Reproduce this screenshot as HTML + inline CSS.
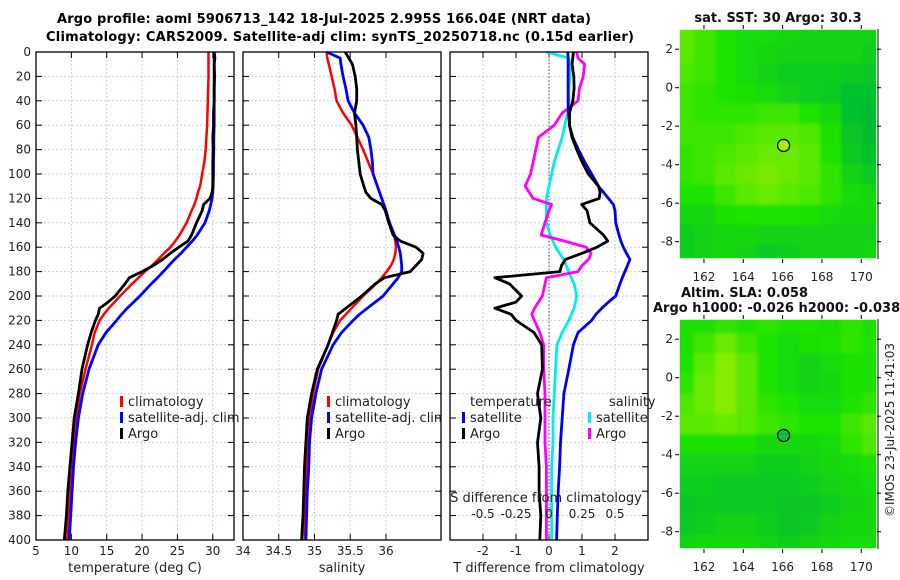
<!DOCTYPE html>
<html><head><meta charset="utf-8"><style>
html,body{margin:0;padding:0;background:#fff;}
svg{display:block;font-family:"DejaVu Sans","Liberation Sans",sans-serif;}
</style></head><body>
<svg id="fig" width="900" height="580" viewBox="0 0 900 580" xmlns="http://www.w3.org/2000/svg">
<defs>
<filter id="soft" x="0" y="0" width="1" height="1"><feGaussianBlur stdDeviation="1.5"/></filter>
<clipPath id="clipA"><rect x="679" y="29" width="198" height="230"/></clipPath>
<clipPath id="clipB"><rect x="679" y="319" width="198" height="230"/></clipPath>
</defs>
<text x="324" y="23" text-anchor="middle" font-size="13" font-weight="bold" textLength="534">Argo profile: aoml 5906713_142 18-Jul-2025 2.995S 166.04E (NRT data)</text>
<text x="340" y="41" text-anchor="middle" font-size="13" font-weight="bold" textLength="588">Climatology: CARS2009. Satellite-adj clim: synTS_20250718.nc (0.15d earlier)</text>
<g id="layer"></g>
<text transform="translate(894,430) rotate(-90)" text-anchor="middle" font-size="12" fill="#222">©IMOS 23-Jul-2025 11:41:03</text>
</svg>
<script>
const depths=[0,5,10,20,30,40,50,60,70,80,90,100,110,115,120,125,130,140,150,155,160,165,170,175,180,185,190,200,205,210,215,220,230,240,260,280,300,320,340,360,380,400];
const tempClim=[29.4,29.4,29.4,29.4,29.35,29.3,29.25,29.2,29.1,29.0,28.8,28.5,28.2,27.9,27.7,27.4,27.0,26.3,25.3,24.7,24.0,23.1,22.3,21.4,20.4,19.5,18.6,16.9,16.1,15.3,14.6,14.0,13.3,12.9,12.0,11.2,10.7,10.3,10.0,9.8,9.6,9.4];
const tempSat=[30.2,30.2,30.2,30.2,30.2,30.2,30.2,30.2,30.15,30.15,30.1,30.1,30.05,30.0,29.9,29.7,29.5,28.9,27.8,27.1,26.3,25.5,24.6,23.8,23.0,22.2,21.3,19.7,18.8,17.9,17.1,16.4,14.9,13.8,12.5,11.6,11.0,10.6,10.3,10.1,9.9,9.7];
const tempArgo=[30.2,30.3,30.2,30.25,30.2,30.2,30.1,30.1,30.0,30.05,30.0,30.0,30.0,29.9,29.6,28.7,28.5,27.7,27.0,26.5,25.2,24.0,22.9,21.6,20.0,18.2,17.6,16.2,15.2,14.0,13.8,13.4,12.8,12.3,11.5,11.0,10.4,10.1,9.8,9.5,9.3,9.0];
const salClim=[35.17,35.18,35.2,35.24,35.28,35.31,35.4,35.52,35.6,35.68,35.75,35.82,35.88,35.91,35.94,35.97,36.0,36.05,36.11,36.13,36.14,36.13,36.11,36.07,36.01,35.94,35.86,35.68,35.6,35.52,35.44,35.36,35.26,35.19,35.05,34.98,34.93,34.91,34.89,34.88,34.87,34.86];
const salSat=[35.17,35.36,35.37,35.4,35.44,35.47,35.56,35.68,35.76,35.79,35.81,35.82,35.88,35.91,35.94,35.97,36.0,36.05,36.12,36.15,36.18,36.2,36.21,36.22,36.22,36.17,36.1,35.96,35.85,35.74,35.63,35.54,35.38,35.26,35.1,35.02,34.96,34.93,34.92,34.9,34.89,34.88];
const salArgo=[35.43,35.48,35.53,35.57,35.59,35.59,35.56,35.58,35.59,35.6,35.62,35.64,35.69,35.72,35.79,35.94,35.99,36.04,36.1,36.2,36.42,36.52,36.5,36.42,36.34,35.98,35.85,35.66,35.55,35.44,35.33,35.31,35.25,35.19,35.04,34.96,34.9,34.88,34.86,34.85,34.84,34.82];
const tDiffSat=[0.57,0.58,0.58,0.58,0.58,0.58,0.59,0.62,0.72,0.89,1.08,1.29,1.5,1.65,1.8,1.95,2.0,2.02,2.12,2.18,2.25,2.35,2.45,2.38,2.3,2.22,2.15,2.02,1.8,1.6,1.42,1.29,0.88,0.74,0.6,0.45,0.4,0.35,0.32,0.28,0.25,0.23];
const tDiffArgo=[0.74,0.72,0.7,0.75,0.76,0.72,0.62,0.62,0.7,0.84,1.0,1.19,1.5,1.55,1.52,0.99,1.15,1.24,1.65,1.78,1.45,1.0,0.5,0.38,0.33,-1.64,-1.2,-0.83,-1.0,-1.64,-1.15,-1.0,-0.45,-0.22,-0.2,-0.35,-0.25,-0.35,-0.3,-0.3,-0.25,-0.28];
const sDiffSat=[-0.02,0.15,0.16,0.16,0.15,0.15,0.14,0.12,0.1,0.07,0.04,0.02,0.0,-0.01,-0.02,-0.02,-0.02,-0.02,0.01,0.03,0.05,0.08,0.11,0.13,0.15,0.17,0.19,0.21,0.2,0.19,0.17,0.15,0.1,0.06,0.05,0.04,0.03,0.03,0.02,0.02,0.02,0.02];
const sDiffArgo=[0.21,0.22,0.27,0.26,0.23,0.22,0.1,0.04,-0.08,-0.1,-0.12,-0.14,-0.18,-0.15,-0.12,0.02,0.0,-0.03,-0.06,0.12,0.28,0.32,0.3,0.25,0.22,-0.02,-0.03,-0.05,-0.08,-0.11,-0.13,-0.11,-0.07,-0.04,-0.04,-0.03,-0.03,-0.03,-0.02,-0.02,-0.02,-0.02];
const depthTicks=[0,20,40,60,80,100,120,140,160,180,200,220,240,260,280,300,320,340,360,380,400];
const tempTicks=[5,10,15,20,25,30];
const salTicks=[34,34.5,35,35.5,36];
const tDiffTicks=[-2,-1,0,1,2];
const sDiffTicks=[-0.5,-0.25,0,0.25,0.5];
const lonTicks=[162,164,166,168,170];
const latTicks=[2,0,-2,-4,-6,-8];
const sstGrid=[
[0.7,0.6,0.5,0.4,0.4,0.35,0.3,0.3,0.3,0.3],
[0.7,0.6,0.5,0.4,0.35,0.3,0.3,0.3,0.3,0.25],
[0.65,0.6,0.5,0.4,0.3,0.25,0.25,0.25,0.2,0.15],
[0.6,0.55,0.5,0.45,0.4,0.3,0.25,0.2,0.1,0.1],
[0.6,0.55,0.55,0.55,0.6,0.6,0.5,0.35,0.1,0.05],
[0.6,0.6,0.6,0.65,0.7,0.7,0.65,0.45,0.15,0.05],
[0.55,0.6,0.65,0.7,0.75,0.75,0.7,0.5,0.2,0.1],
[0.55,0.6,0.7,0.75,0.8,0.75,0.7,0.55,0.3,0.2],
[0.5,0.5,0.6,0.7,0.75,0.7,0.65,0.55,0.4,0.35],
[0.35,0.35,0.45,0.5,0.5,0.5,0.45,0.4,0.35,0.35],
[0.25,0.3,0.35,0.35,0.3,0.3,0.3,0.3,0.3,0.3],
[0.25,0.3,0.35,0.3,0.2,0.25,0.3,0.3,0.3,0.35]];
const slaGrid=[
[0.45,0.45,0.55,0.5,0.55,0.5,0.5,0.45,0.55,0.45],
[0.45,0.6,0.75,0.6,0.5,0.4,0.45,0.5,0.55,0.5],
[0.5,0.7,0.85,0.7,0.5,0.4,0.3,0.4,0.45,0.45],
[0.55,0.75,0.85,0.7,0.5,0.4,0.3,0.35,0.45,0.45],
[0.65,0.75,0.85,0.7,0.55,0.5,0.4,0.4,0.5,0.55],
[0.7,0.7,0.75,0.7,0.6,0.55,0.5,0.5,0.6,0.7],
[0.45,0.45,0.45,0.45,0.35,0.35,0.35,0.4,0.55,0.65],
[0.3,0.3,0.3,0.3,0.25,0.25,0.3,0.35,0.4,0.45],
[0.25,0.25,0.2,0.2,0.2,0.2,0.25,0.3,0.35,0.4],
[0.15,0.2,0.2,0.2,0.2,0.15,0.15,0.25,0.3,0.35],
[0.2,0.25,0.3,0.3,0.25,0.15,0.2,0.3,0.35,0.35],
[0.3,0.35,0.35,0.35,0.3,0.25,0.3,0.35,0.4,0.4]];
const argoLon=166.05, argoLat=-3.0;

const NS='http://www.w3.org/2000/svg';
const layer=document.getElementById('layer');
function mk(tag,attrs,parent){const e=document.createElementNS(NS,tag);for(const k in attrs)e.setAttribute(k,attrs[k]);(parent||layer).appendChild(e);return e;}
const Y0=52,Y1=540;
function yD(d){return Y0+(d/400)*(Y1-Y0);}

function panel(name,x0,x1,xmin,xmax,ticks,labelFmt,xTitle){
  const sx=v=>x0+(v-xmin)/(xmax-xmin)*(x1-x0);
  const g=mk('g',{});
  
  
  ticks.forEach(t=>{const x=sx(t);
    const l=mk('line',{x1:x,x2:x,y1:Y0,y2:Y1,stroke:'#c6cdee','stroke-width':1,'stroke-dasharray':'2,2'},g);
    
    mk('line',{x1:x,x2:x,y1:Y1,y2:Y1-6,stroke:'#000'},g);
    mk('line',{x1:x,x2:x,y1:Y0,y2:Y0+6,stroke:'#000'},g);
    if(labelFmt){const tx=mk('text',{x:x,y:555,'text-anchor':'middle','font-size':12,fill:'#222'},g);tx.textContent=labelFmt(t);
      }
  });
  depthTicks.forEach(d=>{const y=yD(d);
    if(d>0&&d<400){const l=mk('line',{x1:x0,x2:x1,y1:y,y2:y,stroke:'#c6cdee','stroke-width':1,'stroke-dasharray':'2,2'},g);
      }
    mk('line',{x1:x0,x2:x0+6,y1:y,y2:y,stroke:'#000'},g);
    mk('line',{x1:x1-6,x2:x1,y1:y,y2:y,stroke:'#000'},g);
  });
  if(xTitle){const t=mk('text',{x:(x0+x1)/2,y:572,'text-anchor':'middle','font-size':13,fill:'#222'},g);t.textContent=xTitle;
    }
  return {g,sx};
}
function profile(p,vals,sx,color,w,name){
  const pts=vals.map((v,i)=>sx(v).toFixed(1)+','+yD(depths[i]).toFixed(1)).join(' ');
  const pl=mk('polyline',{points:pts,fill:'none',stroke:color,'stroke-width':w,'stroke-linejoin':'round'},p.g);
  
  
}
function frame(p,x0,x1){const r=mk('rect',{x:x0,y:Y0,width:x1-x0,height:Y1-Y0,fill:'none',stroke:'#000','stroke-width':1.3},p.g);
  }
function legend(g,x,y,color,label,name){
  const m=mk('rect',{x:x,y:y-10,width:3,height:11,fill:color},g);
  
  const t=mk('text',{x:x+8,y:y,'font-size':13,fill:'#222'},g);t.textContent=label;
  
}

depthTicks.forEach(d=>{const t=mk('text',{x:31,y:yD(d)+4,'text-anchor':'end','font-size':12,fill:'#222'});t.textContent=d;
  });

const p1=panel('temperature-panel',36,234,5,33,tempTicks,t=>t,'temperature (deg C)');
profile(p1,tempClim,p1.sx,'#ff0000',2.5,'temp-climatology-line');
profile(p1,tempSat,p1.sx,'#0000ff',2.8,'temp-satellite-line');
profile(p1,tempArgo,p1.sx,'#000',2.8,'temp-argo-line');
frame(p1,36,234);
legend(p1.g,120,406,'#ff0000','climatology','legend-climatology');
legend(p1.g,120,422,'#0000ff','satellite-adj. clim','legend-satellite-adj');
legend(p1.g,120,438,'#000','Argo','legend-argo');

const p2=panel('salinity-panel',243,441,34,36.77,salTicks,t=>t,'salinity');
profile(p2,salClim,p2.sx,'#ff0000',2.5,'sal-climatology-line');
profile(p2,salSat,p2.sx,'#0000ff',2.8,'sal-satellite-line');
profile(p2,salArgo,p2.sx,'#000',2.8,'sal-argo-line');
frame(p2,243,441);
legend(p2.g,327,406,'#ff0000','climatology','legend-climatology-2');
legend(p2.g,327,422,'#0000ff','satellite-adj. clim','legend-satellite-adj-2');
legend(p2.g,327,438,'#000','Argo','legend-argo-2');
mk('rect',{x:442,y:400,width:7,height:30,fill:'#fff'});

const p3=panel('difference-panel',450,648,-3,3,tDiffTicks,t=>t,'T difference from climatology');
const sxS=v=>450+(v+0.75)/1.5*198;
const z=mk('line',{x1:p3.sx(0),x2:p3.sx(0),y1:Y0,y2:Y1,stroke:'#5a4a30','stroke-width':1,'stroke-dasharray':'1.5,2'},p3.g);

profile(p3,sDiffSat,sxS,'#00eeee',2.8,'sdiff-satellite-line');
profile(p3,sDiffArgo,sxS,'#ff00ff',2.8,'sdiff-argo-line');
profile(p3,tDiffSat,p3.sx,'#0000ee',2.8,'tdiff-satellite-line');
profile(p3,tDiffArgo,p3.sx,'#000',2.8,'tdiff-argo-line');
frame(p3,450,648);
{const t=mk('text',{x:470,y:406,'font-size':13,fill:'#222'},p3.g);t.textContent='temperature';
 
 const s=mk('text',{x:609,y:406,'font-size':13,fill:'#222'},p3.g);s.textContent='salinity';
 }
legend(p3.g,462,422,'#0000ee','satellite','legend-t-satellite');
legend(p3.g,462,438,'#000','Argo','legend-t-argo');
legend(p3.g,588,422,'#00eeee','satellite','legend-s-satellite');
legend(p3.g,588,438,'#ff00ff','Argo','legend-s-argo');
{const t=mk('text',{x:546,y:502,'text-anchor':'middle','font-size':13,fill:'#222'},p3.g);t.textContent='S difference from climatology';
 }
sDiffTicks.forEach(v=>{const t=mk('text',{x:sxS(v),y:518,'text-anchor':'middle','font-size':12,fill:'#222'},p3.g);t.textContent=v;
 });

function color(v){let r,g,b;
  if(v<0.5){const f=v/0.5;r=0+30*f;g=184+44*f;b=56-56*f;}
  else{const f=(v-0.5)/0.5;r=30+150*f;g=228+12*f;b=0;}
  return 'rgb('+Math.round(r)+','+Math.round(g)+','+Math.round(b)+')';}
function map(name,grid,top,title1,title2,clip,markerFill){
  const x0=679,x1=877,y0=top,y1=top+230;
  const lonMin=160.73,lonMax=170.8,latMax=3.05,latMin=-8.9;
  const sx=l=>x0+(l-lonMin)/(lonMax-lonMin)*(x1-x0);
  const sy=l=>y0+(latMax-l)/(latMax-latMin)*(y1-y0);
  const g=mk('g',{});
  
  
  const hm=mk('g',{'clip-path':'url(#'+clip+')'},g);
  mk('rect',{x:x0,y:y0,width:198,height:230,fill:color(0.4)},hm);
  const cells=mk('g',{filter:'url(#soft)'},hm);
  const nr=grid.length,nc=grid[0].length;
  const cw=(x1-x0+12)/nc,ch=(y1-y0+12)/nr;
  grid.forEach((row,i)=>row.forEach((v,j)=>{
    const c=mk('rect',{x:x0-6+j*cw,y:y0-6+i*ch,width:cw+0.6,height:ch+0.6,fill:color(v)},cells);
    
    
  }));
  const m=mk('circle',{cx:sx(argoLon),cy:sy(argoLat),r:6,fill:markerFill,stroke:'#000','stroke-width':1.3},g);
  
  const fr=mk('rect',{x:x0,y:y0,width:198,height:230,fill:'none',stroke:'#fff','stroke-width':1.5},g);
  
  lonTicks.forEach(l=>{const x=sx(l);
    mk('line',{x1:x,x2:x,y1:y1,y2:y1+4,stroke:'#000'},g);mk('line',{x1:x,x2:x,y1:y0-4,y2:y0,stroke:'#000'},g);
    const t=mk('text',{x:x,y:y1+22,'text-anchor':'middle','font-size':12,fill:'#222'},g);t.textContent=l;
    });
  latTicks.forEach(l=>{const y=sy(l);
    mk('line',{x1:x0-4,x2:x0,y1:y,y2:y,stroke:'#000'},g);mk('line',{x1:x1,x2:x1+4,y1:y,y2:y,stroke:'#000'},g);
    const t=mk('text',{x:673,y:y+4,'text-anchor':'end','font-size':12,fill:'#222'},g);t.textContent=l;
    });
  mk('line',{x1:x1+1,x2:x1+1,y1:y0,y2:y1,stroke:'#000'},g);
  const t1=mk('text',{x:title2?681:778,y:title2?y0-22:y0-7,'text-anchor':title2?'start':'middle','font-size':13,'font-weight':'bold',fill:'#111'},g);
  t1.textContent=title1;
  if(title2){const t2=mk('text',{x:653,y:y0-7,'font-size':13,'font-weight':'bold',fill:'#111'},g);t2.textContent=title2;
    }
}
map('sst-map',sstGrid,29,'sat. SST: 30 Argo: 30.3',null,'clipA','#a8ee00');
map('sla-map',slaGrid,319,'Altim. SLA: 0.058','Argo h1000: -0.026 h2000: -0.038','clipB','#10c040');
</script>
</body></html>
